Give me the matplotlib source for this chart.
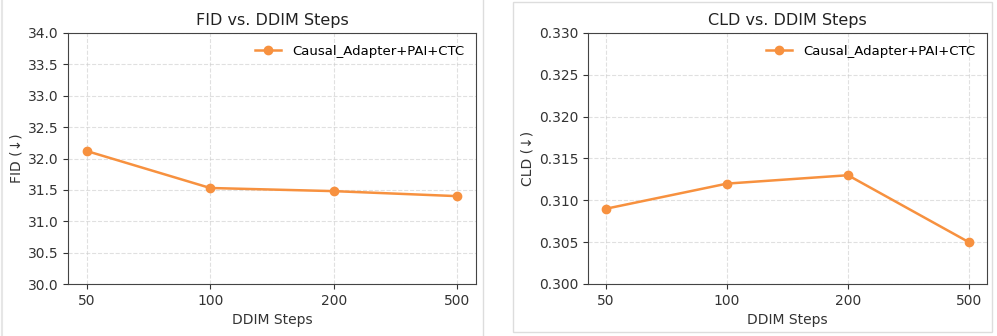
import matplotlib
matplotlib.use("Agg")
import matplotlib.pyplot as plt
from matplotlib.patches import Rectangle
from matplotlib.lines import Line2D

# Data
steps = ["50", "100", "200", "500"]
fid_values = [32.12, 31.53, 31.48, 31.40]
cld_values = [0.309, 0.312, 0.313, 0.305]
label = "Causal_Adapter+PAI+CTC"

line_color = "#F7913F"
spine_color = "#444444"

fig = plt.figure(figsize=(9.97, 3.36), dpi=100)
W, H = 997, 336

def px_axes(x0, y0, x1, y1):
    # pixel box (top-left origin) -> figure axes
    return fig.add_axes([x0 / W, 1 - y1 / H, (x1 - x0) / W, (y1 - y0) / H])

ax1 = px_axes(68, 33, 476, 284)
ax2 = px_axes(588, 33, 987, 284)

def style(ax, values, ylim, yticks, yfmt, ylabel, title):
    x = list(range(len(steps)))
    ax.plot(x, values, marker="o", color=line_color, linewidth=1.8,
            markersize=6, label=label)
    ax.set_xticks(x)
    ax.set_xticklabels(steps)
    ax.set_ylim(*ylim)
    ax.set_yticks(yticks)
    ax.set_yticklabels([yfmt.format(v) for v in yticks])
    ax.set_xlabel("DDIM Steps", fontsize=10, color="#333333")
    ax.set_ylabel(ylabel, fontsize=10, color="#333333", labelpad=3)
    ax.set_title(title, fontsize=11.5, color="#222222")
    ax.grid(True, linestyle="--", color="#cccccc", alpha=0.6, linewidth=0.8)
    for s in ax.spines.values():
        s.set_color(spine_color)
    ax.tick_params(colors="#333333", labelsize=10)
    ax.legend(loc="upper right", frameon=False, fontsize=9.5)

style(ax1, fid_values, (30.0, 34.0), [30.0 + 0.5 * i for i in range(9)],
      "{:.1f}", "FID (↓)", "FID vs. DDIM Steps")
style(ax2, cld_values, (0.300, 0.330), [0.300 + 0.005 * i for i in range(7)],
      "{:.3f}", "CLD (↓)", "CLD vs. DDIM Steps")

# screenshot panel borders
fig.add_artist(Line2D([2 / W, 2 / W], [0, 1], color="#e6e6e6", linewidth=1.5))
fig.add_artist(Line2D([483 / W, 483 / W], [0, 1], color="#dddddd", linewidth=1))
fig.add_artist(Rectangle((513 / W, 1 - 332 / H), (992 - 513) / W, (332 - 2) / H,
                         fill=False, edgecolor="#dddddd", linewidth=1))

fig.savefig("out.png", dpi=100)
